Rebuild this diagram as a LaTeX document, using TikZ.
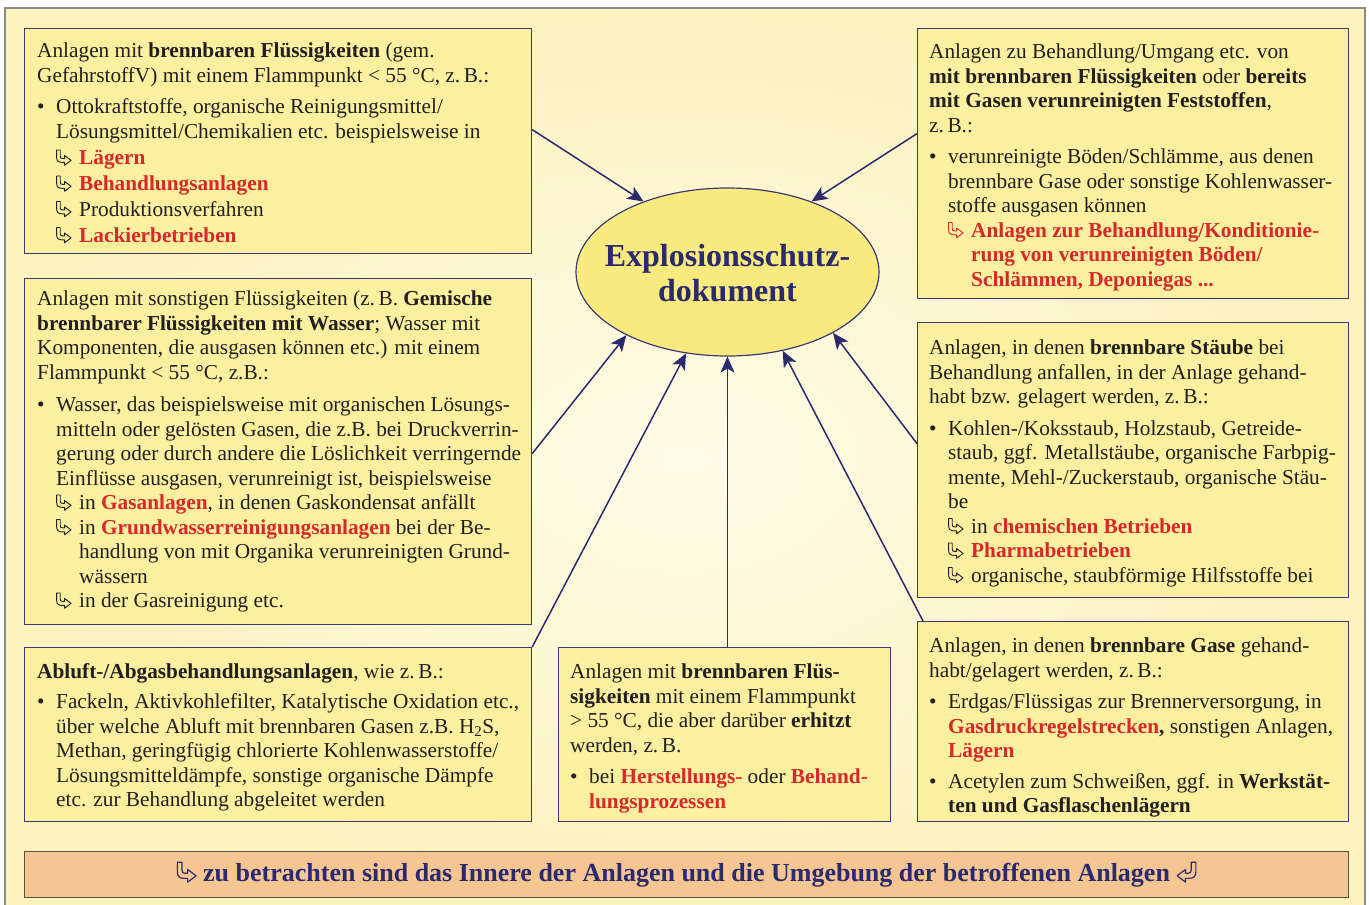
\documentclass[tikz,border=0pt]{standalone}
\usepackage{fontspec}
\setmainfont{Liberation Serif}
\usetikzlibrary{shapes.geometric,arrows.meta}

\definecolor{navy}{HTML}{2B2A6E}
\definecolor{rand}{HTML}{3C3A72}
\definecolor{kastgelb}{HTML}{FAF0A0}
\definecolor{ellgelb}{HTML}{F8EA7E}
\definecolor{rotschrift}{HTML}{D8282C}
\definecolor{schrift}{HTML}{231F20}
\definecolor{bgin}{HTML}{FFFCE8}
\definecolor{bgout}{HTML}{FBF2BE}
\definecolor{bandfarbe}{HTML}{F5C592}
\definecolor{bandrand}{HTML}{5B4E45}
\definecolor{grau}{HTML}{8A8A8A}

% kleiner Hakenpfeil als Aufzaehlungszeichen
\newcommand{\pf}[1][schrift]{\tikz[baseline=0pt,x=1pt,y=1pt,line width=0.9pt]
  \draw[#1,line join=round] (0.6,15) -- (0.6,7.5) .. controls (0.6,4) and (2.5,2.6) .. (6,2.6)
    -- (8.5,2.6) -- (8.5,-0.3) -- (15,4.6) -- (8.5,9.5) -- (8.5,6.6) -- (6.2,6.6)
    .. controls (4.8,6.6) and (4.2,7.4) .. (4.2,9) -- (4.2,15) -- cycle;}
\newcommand{\rot}[1]{\textcolor{rotschrift}{\textbf{#1}}}
\newcommand{\bul}{\makebox[19pt][l]{\textbullet}}
\newcommand{\ein}{\hspace*{19pt}}
\newcommand{\hk}[1][schrift]{\hspace*{19pt}\makebox[23pt][l]{\pf[#1]}}
\newcommand{\hkein}{\hspace*{42pt}}

\begin{document}
\begin{tikzpicture}[x=1pt,y=-1pt,
    kasten/.style={draw=rand,line width=1.2pt,fill=kastgelb,inner sep=0pt,anchor=north west},
    inhalt/.style={anchor=north west,inner sep=0pt,align=left,text=schrift,
      font=\fontsize{21.3}{24.5}\selectfont},
    pfeil/.style={navy,line width=1.5pt,-{Stealth[length=16pt,width=14pt,inset=4pt]}}]

    % Hintergrund
    \useasboundingbox (0,0) rectangle (1369,905);
    \shade[inner color=bgin,outer color=bgout] (5,8) rectangle (1365,910);
    \draw[grau,line width=1.5pt] (5,910) -- (5,8) -- (1365,8) -- (1365,910);

    % Kaesten
    \node[kasten,minimum width=507pt,minimum height=225pt] (k1) at (24,28) {};
    \node[kasten,minimum width=507pt,minimum height=346pt] (k2) at (24,278) {};
    \node[kasten,minimum width=507pt,minimum height=174pt] (k3) at (24,647) {};
    \node[kasten,minimum width=332pt,minimum height=174pt] (k4) at (558,647) {};
    \node[kasten,minimum width=431pt,minimum height=270pt] (k5) at (917,28) {};
    \node[kasten,minimum width=431pt,minimum height=275pt] (k6) at (917,322) {};
    \node[kasten,minimum width=431pt,minimum height=200pt] (k7) at (917,621) {};

    \node[ellipse,draw=rand,line width=1.2pt,fill=ellgelb,minimum width=303pt,minimum height=168pt,
      inner sep=0pt] (doc) at (727.5,272) {};
    \node[align=center,text=navy,font=\fontsize{32}{35}\selectfont\bfseries]
      (doctext) at ([yshift=-1.5pt]doc.center) {Explosionsschutz-\\dokument};

    \node[draw=bandrand,line width=1.2pt,fill=bandfarbe,minimum width=1324pt,minimum height=46pt,
      inner sep=0pt,anchor=north west,text=navy,font=\fontsize{26}{30}\selectfont\bfseries]
      (band) at (24,851) {\scalebox{1.3}{\pf[navy]}\ zu betrachten sind das Innere der Anlagen
      und die Umgebung der betroffenen Anlagen\ \reflectbox{\scalebox{1.3}{\pf[navy]}}};

    % Texte
    \node[inhalt] (t1) at (37,43) {Anlagen mit \textbf{brennbaren Flüssigkeiten} (gem.\\
      GefahrstoffV) mit einem Flammpunkt < 55~°C, z.\,B.:\\[7pt]
      \bul Ottokraftstoffe, organische Reinigungsmittel/\\
      \ein Lösungsmittel/Chemikalien etc. beispielsweise in\\[2pt]
      \hk\rot{Lägern}\\[1.5pt]
      \hk\rot{Behandlungsanlagen}\\[1pt]
      \hk Produktionsverfahren\\[1.5pt]
      \hk\rot{Lackierbetrieben}};

    \node[inhalt] (t2) at (37,291) {Anlagen mit sonstigen Flüssigkeiten (z.\,B. \textbf{Gemische}\\
      \textbf{brennbarer Flüssigkeiten mit Wasser}; Wasser mit\\
      Komponenten, die ausgasen können etc.) mit einem\\
      Flammpunkt < 55~°C, z.B.:\\[8pt]
      \bul Wasser, das beispielsweise mit organischen Lösungs-\\
      \ein mitteln oder gelösten Gasen, die z.B. bei Druckverrin-\\
      \ein gerung oder durch andere die Löslichkeit verringernde\\
      \ein Einflüsse ausgasen, verunreinigt ist, beispielsweise\\
      \hk in \rot{Gasanlagen}, in denen Gaskondensat anfällt\\
      \hk in \rot{Grundwasserreinigungsanlagen} bei der Be-\\
      \hkein handlung von mit Organika verunreinigten Grund-\\
      \hkein wässern\\
      \hk in der Gasreinigung etc.};

    \node[inhalt] (t3) at (37,663) {\textbf{Abluft-/Abgasbehandlungsanlagen}, wie z.\,B.:\\[6pt]
      \bul Fackeln, Aktivkohlefilter, Katalytische Oxidation etc.,\\
      \ein über welche Abluft mit brennbaren Gasen z.B. H\textsubscript{2}S,\\
      \ein Methan, geringfügig chlorierte Kohlenwasserstoffe/\\
      \ein Lösungsmitteldämpfe, sonstige organische Dämpfe\\
      \ein etc. zur Behandlung abgeleitet werden};

    \node[inhalt] (t4) at (570,664) {Anlagen mit \textbf{brennbaren Flüs-}\\
      \textbf{sigkeiten} mit einem Flammpunkt\\
      > 55~°C, die aber darüber \textbf{erhitzt}\\
      werden, z.\,B.\\[7pt]
      \bul bei \rot{Herstellungs-} oder \rot{Behand-}\\
      \ein\rot{lungsprozessen}};

    \node[inhalt] (t5) at (929,44) {Anlagen zu Behandlung/Umgang etc. von\\
      \textbf{mit brennbaren Flüssigkeiten} oder \textbf{bereits}\\
      \textbf{mit Gasen verunreinigten Feststoffen},\\
      z.\,B.:\\[7pt]
      \bul verunreinigte Böden/Schlämme, aus denen\\
      \ein brennbare Gase oder sonstige Kohlenwasser-\\
      \ein stoffe ausgasen können\\
      \hk[rotschrift]\rot{Anlagen zur Behandlung/Konditionie-}\\
      \hkein\rot{rung von verunreinigten Böden/}\\
      \hkein\rot{Schlämmen, Deponiegas ...}};

    \node[inhalt] (t6) at (929,340) {Anlagen, in denen \textbf{brennbare Stäube} bei\\
      Behandlung anfallen, in der Anlage gehand-\\
      habt bzw. gelagert werden, z.\,B.:\\[7pt]
      \bul Kohlen-/Koksstaub, Holzstaub, Getreide-\\
      \ein staub, ggf. Metallstäube, organische Farbpig-\\
      \ein mente, Mehl-/Zuckerstaub, organische Stäu-\\
      \ein be\\
      \hk in \rot{chemischen Betrieben}\\
      \hk\rot{Pharmabetrieben}\\
      \hk organische, staubförmige Hilfsstoffe bei};

    \node[inhalt] (t7) at (929,638) {Anlagen, in denen \textbf{brennbare Gase} gehand-\\
      habt/gelagert werden, z.\,B.:\\[7pt]
      \bul Erdgas/Flüssigas zur Brennerversorgung, in\\
      \ein\rot{Gasdruckregelstrecken}\textbf{,} sonstigen Anlagen,\\
      \ein\rot{Lägern}\\[6pt]
      \bul Acetylen zum Schweißen, ggf. in \textbf{Werkstät-}\\
      \ein\textbf{ten und Gasflaschenlägern}};

    % Pfeile zum Dokument
    \coordinate (s1) at ([yshift=11.5pt]k1.east);
    \coordinate (s2) at ([yshift=30pt]k5.west);
    \coordinate (s3) at ([yshift=-2pt]k2.east);
    \coordinate (s4) at (k3.north east);
    \coordinate (s5) at (k4.north -| doc.south);
    \coordinate (s6) at ([xshift=6pt]k7.north west);
    \coordinate (s7) at ([yshift=16.5pt]k6.west);

    \foreach \s/\w in {s1/140,s2/40,s3/212,s4/243,s5/270,s6/305,s7/330}
    {
        \draw[pfeil] (\s) -- (doc.\w);
    }
\end{tikzpicture}
\end{document}
